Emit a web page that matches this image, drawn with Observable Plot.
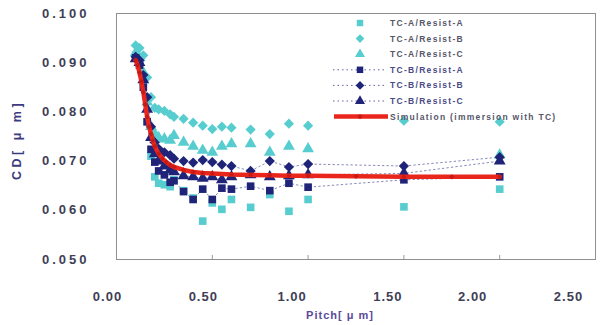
<!DOCTYPE html>
<html><head><meta charset="utf-8">
<script src="https://cdn.jsdelivr.net/npm/d3@7"></script>
<script src="https://cdn.jsdelivr.net/npm/@observablehq/plot@0.6"></script>
<style>
body{margin:0;background:#fff;font-family:"Liberation Sans",Arial,sans-serif}
#wrap{position:relative;width:614px;height:325px;overflow:hidden}
#legend{position:absolute;left:0;top:0;pointer-events:none}
</style>
</head><body><div id="wrap"></div>
<script>
// ---- data ----
const pitch = [0.10,0.12,0.14,0.16,0.18,0.20,0.22,0.25,0.28,0.30,0.35,0.40,0.45,0.50,0.55,0.60,0.70,0.80,0.90,1.00,1.50,2.00];
const tcA_resistA = [0.0915,0.0905,0.0860,0.0780,0.0710,0.0668,0.0655,0.0652,0.0648,0.0662,0.0640,0.0625,0.0578,0.0615,0.0602,0.0622,0.0606,0.0632,0.0598,0.0622,0.0607,0.0643];
const tcA_resistB = [0.0935,0.0930,0.0915,0.0870,0.0830,0.0808,0.0805,0.0802,0.0795,0.0790,0.0786,0.0778,0.0772,0.0765,0.0770,0.0768,0.0764,0.0755,0.0776,0.0772,0.0782,0.0780];
const tcA_resistC = [0.0920,0.0910,0.0880,0.0820,0.0770,0.0755,0.0748,0.0745,0.0742,0.0752,0.0738,0.0730,0.0722,0.0718,0.0730,0.0735,0.0735,0.0718,0.0730,0.0725,null,0.0712];
const tcB_resistA = [0.0910,0.0895,0.0850,0.0780,0.0724,0.0698,0.0680,0.0672,0.0657,0.0660,0.0638,0.0622,0.0643,0.0622,0.0645,0.0643,0.0649,0.0640,0.0655,0.0647,0.0662,0.0668];
const tcB_resistB = [0.0912,0.0905,0.0875,0.0830,0.0770,0.0738,0.0725,0.0718,0.0712,0.0705,0.0700,0.0697,0.0702,0.0698,0.0693,0.0690,0.0680,0.0700,0.0688,0.0694,0.0690,0.0708];
const tcB_resistC = [0.0908,0.0900,0.0865,0.0805,0.0748,0.0715,0.0700,0.0690,0.0682,0.0678,0.0670,0.0668,0.0665,0.0668,0.0662,0.0668,0.0672,0.0668,0.0670,0.0672,0.0675,0.0700];
const simPitch = [0.10,0.11,0.12,0.13,0.14,0.15,0.16,0.17,0.18,0.19,0.20,0.22,0.24,0.26,0.28,0.30,0.35,0.40,0.45,0.50,0.60,0.70,0.80,0.90,1.00,1.25,1.50,1.75,2.00];
const simCD = [0.0905,0.0895,0.0880,0.0862,0.0840,0.0815,0.0790,0.0770,0.0755,0.0742,0.0730,0.0715,0.0705,0.0698,0.0692,0.0688,0.0682,0.0678,0.0676,0.0675,0.0673,0.0672,0.0671,0.0670,0.0670,0.0669,0.0668,0.0668,0.0668];
const seriesNames = ["TC-A/Resist-A","TC-A/Resist-B","TC-A/Resist-C","TC-B/Resist-A","TC-B/Resist-B","TC-B/Resist-C","Simulation (immersion with TC)"];
const xTicks = [0,0.5,1.0,1.5,2.0,2.5];
const yTicks = [0.05,0.06,0.07,0.08,0.09,0.10];

// ---- styling ----
const cyan = "#58cdcf", navy = "#1f2479", red = "#e8261c";
const series = [
  {name: seriesNames[0], values: tcA_resistA, color: cyan, symbol: "square",   line: false},
  {name: seriesNames[1], values: tcA_resistB, color: cyan, symbol: "diamond2", line: false},
  {name: seriesNames[2], values: tcA_resistC, color: cyan, symbol: "triangle", line: false},
  {name: seriesNames[3], values: tcB_resistA, color: navy, symbol: "square",   line: true},
  {name: seriesNames[4], values: tcB_resistB, color: navy, symbol: "diamond2", line: true},
  {name: seriesNames[5], values: tcB_resistC, color: navy, symbol: "triangle", line: true}
];
const sizeFor = s => s === "square" ? 4.3 : s === "diamond2" ? 4.6 : 4.4;
const rows = series.flatMap(s => pitch.map((p, i) => ({name: s.name, x: p, y: s.values[i], color: s.color, symbol: s.symbol, line: s.line})).filter(d => d.y != null));
const sim = simPitch.map((p, i) => ({x: p, y: simCD[i]}));

const marks = [Plot.frame({stroke: "#8f8f8f"})];
marks.push(Plot.line(rows.filter(d => d.line), {x: "x", y: "y", z: "name", stroke: navy, strokeWidth: 1, strokeDasharray: "1.5,3", strokeOpacity: 0.55}));
for (const s of series) {
  marks.push(Plot.dot(rows.filter(d => d.name === s.name), {x: "x", y: "y", symbol: () => s.symbol, fill: s.color, r: sizeFor(s.symbol), stroke: "none"}));
}
marks.push(Plot.line(sim, {x: "x", y: "y", stroke: red, strokeWidth: 4.5}));
marks.push(Plot.dot(sim, {x: "x", y: "y", symbol: "diamond2", fill: "#c81a14", r: 2.4}));
marks.push(Plot.axisY({ticks: yTicks, tickFormat: d3.format(".3f"), tickSize: 0, tickPadding: 27, fontSize: 13, fontWeight: "bold", fill: "#3e3e56", label: null}));
marks.push(Plot.axisX({ticks: [0.5,1.0,1.5,2.0], tickSize: -4, stroke: "#9a9a9a", text: null, label: null}));
marks.push(Plot.axisX({ticks: [0, 0.5], tickFormat: d3.format(".2f"), tickSize: 0, tickPadding: 32, dx: -9, fontSize: 13, fontWeight: "bold", fill: "#3e3e56", label: null}));
marks.push(Plot.axisX({ticks: [1.0, 1.5], tickFormat: d3.format(".2f"), tickSize: 0, tickPadding: 32, dx: -16, fontSize: 13, fontWeight: "bold", fill: "#3e3e56", label: null}));
marks.push(Plot.axisX({ticks: [2.0, 2.5], tickFormat: d3.format(".2f"), tickSize: 0, tickPadding: 32, dx: -27, fontSize: 13, fontWeight: "bold", fill: "#3e3e56", label: null}));

const chart = Plot.plot({
  width: 614, height: 325,
  marginLeft: 116, marginRight: 19, marginTop: 13, marginBottom: 66,
  style: {fontFamily: "'Liberation Sans', Arial, sans-serif", background: "transparent"},
  x: {domain: [0, 2.5]},
  y: {domain: [0.05, 0.10]},
  symbol: {type: "identity"},
  marks
});
document.getElementById("wrap").appendChild(chart);

const svg = d3.select(chart);
svg.selectAll('[aria-label="y-axis tick label"] text').style("letter-spacing", "3px");
svg.selectAll('[aria-label="x-axis tick label"] text').style("letter-spacing", "1px");
// axis titles
svg.append("text").attr("transform", "translate(21,140) rotate(-90)").attr("text-anchor", "middle")
  .attr("font-size", 12.5).attr("font-weight", "bold").attr("fill", "#3d3a80").style("letter-spacing", "3.5px").text("CD[ μ m]");
svg.append("text").attr("x", 340).attr("y", 319).attr("text-anchor", "middle")
  .attr("font-size", 11).attr("font-weight", "bold").attr("fill", "#5a4a9c").style("letter-spacing", "1px").text("Pitch[ μ m]");

// ---- legend (inside the plot area, top right) ----
const lg = d3.select("#wrap").append("svg").attr("id", "legend").attr("width", 614).attr("height", 325);
const legendItems = series.map(s => ({name: s.name, color: s.color, symbol: s.symbol, line: s.line, kind: "pt"}))
  .concat([{name: seriesNames[6], color: red, symbol: "diamond2", kind: "sim"}]);
const symType = {square: d3.symbolSquare, diamond2: d3.symbolDiamond2, triangle: d3.symbolTriangle};
legendItems.forEach((it, i) => {
  const y = 23 + i * 15.6;
  const g = lg.append("g");
  if (it.kind === "sim") {
    g.append("line").attr("x1", 334).attr("x2", 388).attr("y1", y).attr("y2", y).attr("stroke", red).attr("stroke-width", 4.5);
    g.append("path").attr("transform", `translate(360,${y})`).attr("d", d3.symbol(d3.symbolDiamond2, Math.PI * 2.4 * 2.4)()).attr("fill", "#c81a14");
  } else {
    if (it.line) g.append("line").attr("x1", 333).attr("x2", 387).attr("y1", y).attr("y2", y).attr("stroke", navy).attr("stroke-width", 1).attr("stroke-dasharray", "1.5,3").attr("stroke-opacity", 0.7);
    const r = sizeFor(it.symbol) * 0.85;
    g.append("path").attr("transform", `translate(360,${y})`).attr("d", d3.symbol(symType[it.symbol], Math.PI * r * r)()).attr("fill", it.color);
  }
  g.append("text").attr("x", 390).attr("y", y).attr("dy", "0.35em").attr("font-size", 8.5).attr("font-weight", "bold")
    .attr("fill", it.kind === "pt" && it.line ? "#4a4a86" : "#56566a").style("letter-spacing", "1.3px")
    .style("font-family", "'Liberation Sans', Arial, sans-serif").text(it.name);
});
</script>
</body></html>
